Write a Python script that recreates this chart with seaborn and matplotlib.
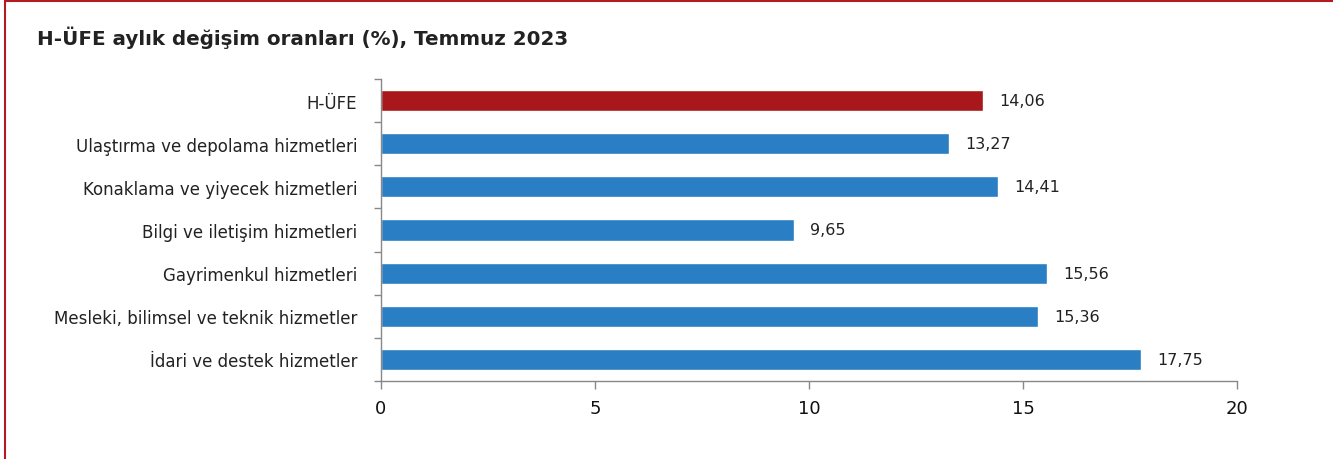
import numpy as np
import pandas as pd
import matplotlib
matplotlib.use("Agg")
import matplotlib.pyplot as plt
import seaborn as sns
from matplotlib.patches import Rectangle

# %%
categories = ["H-ÜFE",
              "Ulaştırma ve depolama hizmetleri",
              "Konaklama ve yiyecek hizmetleri",
              "Bilgi ve iletişim hizmetleri",
              "Gayrimenkul hizmetleri",
              "Mesleki, bilimsel ve teknik hizmetler",
              "İdari ve destek hizmetler"]
values = [14.06, 13.27, 14.41, 9.65, 15.56, 15.36, 17.75]
value_labels = ["14,06", "13,27", "14,41", "9,65", "15,56", "15,36", "17,75"]
bar_colors = ["#A8171B"] + ["#2A7EC4"] * 6
title = "H-ÜFE aylık değişim oranları (%), Temmuz 2023"

df = pd.DataFrame({"kategori": categories, "deger": values})

# %%
sns.set_theme(style="white")
plt.rcParams["font.family"] = ["DejaVu Sans"]

fig = plt.figure(figsize=(13.33, 4.6), dpi=100)
ax = fig.add_axes([0.2858, 0.1696, 0.6422, 0.6565])

sns.barplot(data=df, x="deger", y="kategori", hue="kategori", palette=bar_colors,
            legend=False, width=0.49, ax=ax, saturation=1)

for i, (v, t) in enumerate(zip(values, value_labels)):
    ax.text(v + 0.38, i, t, va="center", ha="left", fontsize=11.5, color="#222222")

ax.set_xlim(0, 20)
ax.set_ylim(len(categories) - 0.5, -0.5)
ax.set_xticks([0, 5, 10, 15, 20])
ax.set_xticklabels(["0", "5", "10", "15", "20"], fontsize=13, color="#111111")
ax.set_xlabel("")
ax.set_ylabel("")

# y ticks at category boundaries, labels at centers
ax.set_yticks(np.arange(len(categories)))
ax.set_yticklabels(categories, fontsize=12, color="#222222")
ax.set_yticks(np.arange(len(categories) + 1) - 0.5, minor=True)
ax.tick_params(axis="y", which="major", left=True, length=0, pad=17)
ax.tick_params(axis="y", which="minor", left=True, length=5, width=1,
               color="#888888", direction="out")
ax.tick_params(axis="x", bottom=True, length=6, width=1, color="#888888",
               direction="out", pad=7)

for s in ["top", "right"]:
    ax.spines[s].set_visible(False)
for s in ["left", "bottom"]:
    ax.spines[s].set_color("#888888")
    ax.spines[s].set_linewidth(1)

fig.text(0.028, 0.917, title, fontsize=14.3, fontweight="bold", color="#222222",
         ha="left", va="center")

# frame around the chart
fig.patches.append(Rectangle((0.004, -0.01), 1.05, 1.005, transform=fig.transFigure,
                             fill=False, edgecolor="#B01C22", linewidth=1.5))

fig.savefig("out.png", dpi=100)
